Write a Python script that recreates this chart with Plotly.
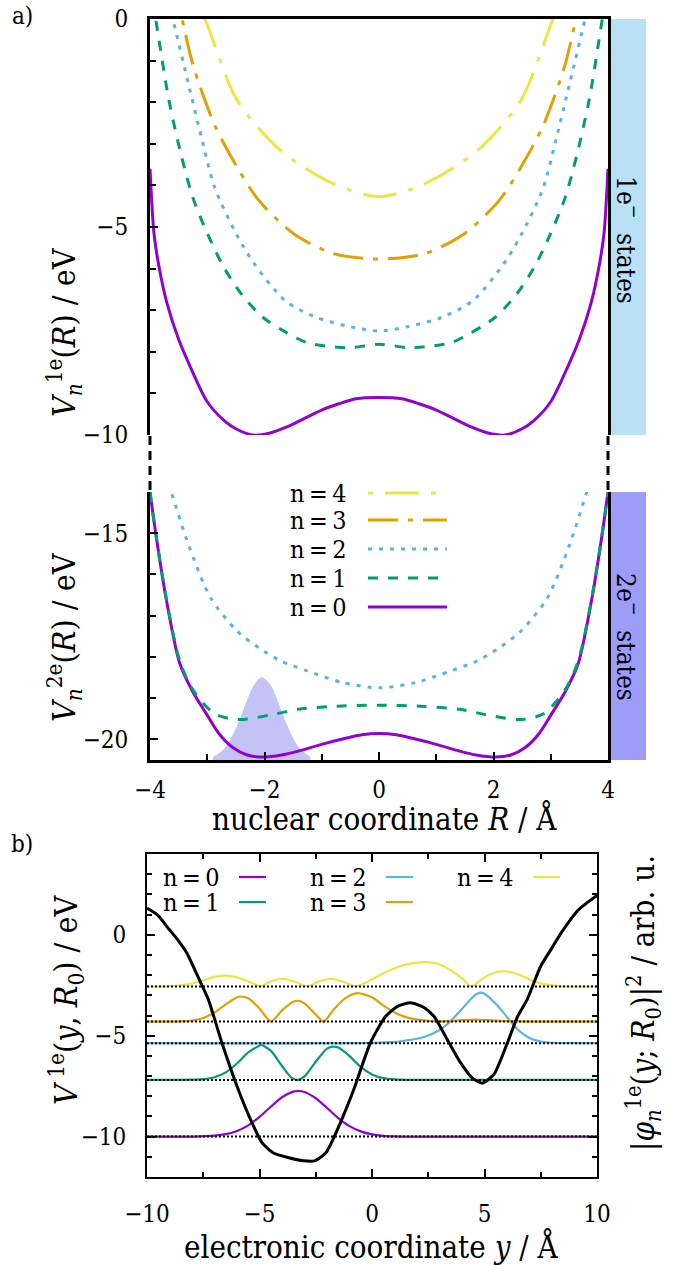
import plotly.graph_objects as go

W, H = 686, 1268
FONT = "DejaVu Serif Condensed, DejaVu Serif, serif"

# ---------------- panel a: one-electron potential curves V_n^1e(R) ----------------
R_1e_n0 = [-4.0, -3.93, -3.85, -3.7, -3.5, -3.3, -3.0, -2.7, -2.5, -2.2, -1.9, -1.6, -1.3, -1.0, -0.7, -0.4, 0.0,
           0.4, 0.7, 1.0, 1.3, 1.6, 1.9, 2.2, 2.5, 2.7, 3.0, 3.3, 3.5, 3.7, 3.85, 3.93, 4.0]
V_1e_n0 = [-3.6, -5.16, -5.9, -6.85, -7.7, -8.35, -9.2, -9.66, -9.85, -10.0, -9.95, -9.8, -9.6, -9.4, -9.25, -9.13, -9.1,
           -9.13, -9.25, -9.4, -9.6, -9.8, -9.95, -10.0, -9.85, -9.66, -9.2, -8.35, -7.7, -6.85, -5.9, -5.16, -3.6]

R_1e_n1 = [-4.0, -3.9, -3.67, -3.45, -3.25, -3.0, -2.71, -2.4, -2.03, -1.6, -1.26, -0.8, -0.5, 0.0,
           0.5, 0.8, 1.26, 1.6, 2.03, 2.4, 2.71, 3.0, 3.25, 3.45, 3.67, 3.9, 4.0]
V_1e_n1 = [0.9, 0.0, -1.95, -3.3, -4.3, -5.15, -5.97, -6.62, -7.17, -7.55, -7.78, -7.88, -7.9, -7.82,
           -7.9, -7.88, -7.78, -7.55, -7.17, -6.62, -5.97, -5.15, -4.3, -3.3, -1.95, 0.0, 0.9]

R_1e_n2 = [-3.75, -3.6, -3.33, -3.1, -2.87, -2.48, -2.17, -1.64, -1.1, -0.49, 0.0,
           0.49, 1.1, 1.64, 2.17, 2.48, 2.87, 3.1, 3.33, 3.6, 3.75]
V_1e_n2 = [0.9, 0.0, -1.55, -2.85, -4.05, -5.2, -5.9, -6.77, -7.17, -7.4, -7.5,
           -7.4, -7.17, -6.77, -5.9, -5.2, -4.05, -2.85, -1.55, 0.0, 0.9]

R_1e_n3 = [-3.6, -3.44, -3.25, -2.87, -2.48, -2.1, -1.49, -0.8, 0.0, 0.8, 1.49, 2.1, 2.48, 2.87, 3.25, 3.44, 3.6]
V_1e_n3 = [0.9, 0.0, -1.1, -2.55, -3.56, -4.36, -5.16, -5.64, -5.77, -5.64, -5.16, -4.36, -3.56, -2.55, -1.1, 0.0, 0.9]

R_1e_n4 = [-3.2, -3.04, -2.48, -1.72, -0.8, 0.0, 0.8, 1.72, 2.48, 3.04, 3.2]
V_1e_n4 = [0.45, 0.0, -1.95, -3.16, -3.96, -4.27, -3.96, -3.16, -1.95, 0.0, 0.45]

# ---------------- panel a: two-electron potential curves V_n^2e(R) ----------------
R_2e_n0 = [-4.0, -3.9, -3.72, -3.48, -3.25, -3.02, -2.8, -2.56, -2.3, -2.04, -1.7, -1.4, -1.0, -0.6, -0.3, 0.0,
           0.3, 0.6, 1.0, 1.4, 1.7, 2.04, 2.3, 2.56, 2.8, 3.02, 3.25, 3.48, 3.72, 3.9, 4.0]
V_2e_n0 = [-14.0, -15.0, -16.57, -18.16, -18.85, -19.37, -19.85, -20.19, -20.38, -20.43, -20.38, -20.28, -20.12, -19.98, -19.89, -19.86,
           -19.89, -19.98, -20.12, -20.28, -20.38, -20.43, -20.38, -20.19, -19.85, -19.37, -18.85, -18.16, -16.57, -15.0, -14.0]

R_2e_n1 = [-4.0, -3.9, -3.72, -3.48, -3.25, -2.87, -2.45, -1.87, -1.41, -0.8, 0.0, 0.8, 1.41, 1.87, 2.45, 2.87, 3.25, 3.48, 3.72, 3.9, 4.0]
V_2e_n1 = [-14.0, -15.0, -16.55, -18.1, -18.8, -19.38, -19.52, -19.4, -19.27, -19.2, -19.17, -19.2, -19.27, -19.4, -19.52, -19.38, -18.8, -18.1, -16.55, -15.0, -14.0]

R_2e_n2 = [-3.8, -3.63, -3.32, -2.94, -2.48, -2.1, -1.71, -1.25, -0.64, 0.0, 0.64, 1.25, 1.71, 2.1, 2.48, 2.94, 3.32, 3.63, 3.8]
V_2e_n2 = [-13.3, -14.0, -15.31, -16.57, -17.37, -17.78, -18.1, -18.34, -18.62, -18.75, -18.62, -18.34, -18.1, -17.78, -17.37, -16.57, -15.31, -14.0, -13.3]

# nuclear wave packet (shaded), heights above the lower axis limit
R_packet = [-2.9, -2.7, -2.5, -2.3, -2.2, -2.1, -2.04, -1.9, -1.8, -1.6, -1.4, -1.2]
h_packet = [0.07, 0.28, 0.77, 1.47, 1.78, 1.97, 2.0, 1.83, 1.54, 0.83, 0.31, 0.08]

# ---------------- panel b: electronic potential and densities ----------------
y_pot = [-10, -9.5, -9.12, -8.6, -8.23, -7.64, -7.27, -6.67, -6.0, -5.34, -4.89, -4.4, -3.7, -3.05, -2.55, -2.05, -1.4,
         -0.81, -0.07, 0.6, 1.12, 1.71, 2.31, 2.76, 3.35, 3.94, 4.46, 4.91, 5.43, 6.02, 6.47, 6.9, 7.5, 8.0, 8.4, 9.18, 10]
V_pot = [1.32, 0.95, 0.41, -0.3, -0.9, -2.31, -3.22, -5.35, -7.5, -9.3, -10.3, -10.8, -11.05, -11.2, -11.2, -10.8, -9.3,
         -7.67, -5.35, -4.05, -3.56, -3.37, -3.6, -4.05, -5.2, -6.35, -7.1, -7.35, -6.9, -5.35, -4.05, -3.2, -1.55, -0.65, 0.08, 1.24, 1.95]

E_levels = [-10.0, -7.19, -5.37, -4.3, -2.56]

y_d0 = [-10, -8, -7, -6.5, -6, -5.5, -5, -4.5, -4, -3.5, -3.28, -3, -2.5, -2, -1.5, -1, -0.5, 0, 0.5, 1, 2, 10]
d0 = [0, 0.004, 0.045, 0.12, 0.28, 0.56, 0.98, 1.48, 1.95, 2.23, 2.26, 2.21, 1.90, 1.42, 0.92, 0.52, 0.26, 0.11, 0.04, 0.013, 0, 0]

y_d1 = [-10, -8, -7.5, -7, -6.5, -6, -5.5, -5, -4.94, -4.5, -4, -3.6, -3.32, -3.0, -2.5, -2, -1.72, -1.5, -1, -0.5, 0, 0.5, 1, 1.5, 3, 10]
d1 = [0, 0.009, 0.037, 0.13, 0.37, 0.81, 1.36, 1.70, 1.74, 1.45, 0.69, 0.13, 0, 0.17, 0.90, 1.55, 1.65, 1.60, 1.18, 0.64, 0.27, 0.09, 0.025, 0.005, 0, 0]

y_d2 = [-10, 0, 1, 1.5, 2, 2.5, 3, 3.5, 4, 4.5, 4.8, 5, 5.5, 6, 6.5, 7, 7.5, 8, 10]
d2 = [0, 0.01, 0.06, 0.13, 0.22, 0.38, 0.65, 1.1, 1.7, 2.3, 2.5, 2.45, 1.95, 1.3, 0.65, 0.25, 0.08, 0.02, 0]

y_d3 = [-10, -8.5, -8, -7.5, -7, -6.5, -6, -5.85, -5.5, -5, -4.49, -4, -3.5, -3.28, -3, -2.5, -2.15, -1.7, -1.2, -0.65,
        0, 0.5, 1, 1.5, 2, 2.5, 3, 3.5, 4, 4.8, 5.5, 6, 7, 10]
d3 = [0, 0.01, 0.05, 0.18, 0.45, 0.85, 1.2, 1.24, 1.15, 0.65, 0, 0.55, 0.98, 1.03, 0.9, 0.35, 0, 0.6, 1.15, 1.41,
      1.2, 0.8, 0.45, 0.22, 0.1, 0.04, 0.01, 0.03, 0.07, 0.09, 0.05, 0.02, 0, 0]

y_d4 = [-10, -9, -8.5, -8, -7.5, -7, -6.5, -6, -5.5, -4.94, -4.5, -3.96, -3.4, -2.89, -2.35, -1.82, -1.25, -0.71,
        0, 0.5, 1, 1.5, 2, 2.46, 3, 3.5, 4, 4.41, 5, 5.5, 5.97, 6.5, 7, 7.5, 8, 8.5, 10]
d4 = [0, 0.02, 0.06, 0.14, 0.3, 0.47, 0.54, 0.45, 0.25, 0, 0.25, 0.38, 0.22, 0, 0.25, 0.38, 0.22, 0,
      0.35, 0.65, 0.9, 1.08, 1.18, 1.2, 1.1, 0.8, 0.4, 0, 0.45, 0.7, 0.74, 0.6, 0.35, 0.15, 0.05, 0.01, 0]

state_labels = ["n\u2009=\u20090", "n\u2009=\u20091", "n\u2009=\u20092", "n\u2009=\u20093", "n\u2009=\u20094"]
colors = ["#9400d3", "#009e73", "#56b4e9", "#e69f00", "#f0e442"]
dashes = ["solid", "10px,10px", "4px,7px", "30px,10px,5px,10px", "5px,12px,34px,12px"]


def px(x):
    return x / W


def py(y):
    return 1 - y / H


fig = go.Figure()

# panel a, top (1e states)
for R, V, c, d in [(R_1e_n4, V_1e_n4, colors[4], dashes[4]), (R_1e_n3, V_1e_n3, colors[3], dashes[3]),
                   (R_1e_n2, V_1e_n2, colors[2], dashes[2]), (R_1e_n1, V_1e_n1, colors[1], dashes[1]),
                   (R_1e_n0, V_1e_n0, colors[0], dashes[0])]:
    fig.add_trace(go.Scatter(x=R, y=V, mode="lines", line=dict(color=c, width=3, dash=d, shape="spline", smoothing=0.8),
                             xaxis="x", yaxis="y", showlegend=False, hoverinfo="skip"))

# panel a, bottom (2e states)
pk_base = [-20.5 for _ in R_packet]
fig.add_trace(go.Scatter(x=R_packet, y=pk_base, mode="lines", line=dict(width=0), xaxis="x2", yaxis="y2",
                         showlegend=False, hoverinfo="skip"))
fig.add_trace(go.Scatter(x=R_packet, y=[-20.5 + h for h in h_packet], mode="lines", fill="tonexty",
                         fillcolor="#c3c3f7", line=dict(width=0, shape="spline"), xaxis="x2", yaxis="y2",
                         showlegend=False, hoverinfo="skip"))
for R, V, c, d in [(R_2e_n2, V_2e_n2, colors[2], dashes[2]), (R_2e_n0, V_2e_n0, colors[0], dashes[0]),
                   (R_2e_n1, V_2e_n1, colors[1], dashes[1])]:
    fig.add_trace(go.Scatter(x=R, y=V, mode="lines", line=dict(color=c, width=3, dash=d, shape="spline", smoothing=0.8),
                             xaxis="x2", yaxis="y2", showlegend=False, hoverinfo="skip"))

# panel b
dens = [(y_d0, d0), (y_d1, d1), (y_d2, d2), (y_d3, d3), (y_d4, d4)]
for i, (yy, dd) in enumerate(dens):
    fig.add_trace(go.Scatter(x=yy, y=[E_levels[i] + v for v in dd], mode="lines",
                             line=dict(color=colors[i], width=2.2, shape="spline", smoothing=0.7),
                             xaxis="x3", yaxis="y3", showlegend=False, hoverinfo="skip"))
for E in E_levels:
    fig.add_trace(go.Scatter(x=[-10, 10], y=[E, E], mode="lines", line=dict(color="black", width=2, dash="2px,2px"),
                             xaxis="x3", yaxis="y3", showlegend=False, hoverinfo="skip"))
fig.add_trace(go.Scatter(x=y_pot, y=V_pot, mode="lines", line=dict(color="black", width=3, shape="spline", smoothing=0.6),
                         xaxis="x3", yaxis="y3", showlegend=False, hoverinfo="skip"))

tickfont = dict(family=FONT, size=24, color="black")
common_y = dict(ticks="inside", ticklen=8, tickwidth=1.5, tickcolor="black", showgrid=False, zeroline=False,
                tickfont=tickfont, ticklabelstandoff=14, automargin=False)

ax_a = [px(150), px(608)]
ax_b = [px(147), px(597)]

fig.update_layout(
    template="none",
    width=W, height=H, margin=dict(l=0, r=0, t=0, b=0, pad=0, autoexpand=False),
    paper_bgcolor="white", plot_bgcolor="white",
    font=dict(family=FONT, color="black"),
    xaxis=dict(domain=ax_a, range=[-4, 4], anchor="y", side="top", showline=True, linewidth=3, linecolor="black",
               showticklabels=False, ticks="", showgrid=False, zeroline=False, automargin=False),
    yaxis=dict(domain=[py(435), py(19)], range=[-10, 0], anchor="x", showline=True, mirror=True, linewidth=3,
               linecolor="black", tick0=0, dtick=5,
               minor=dict(dtick=1, ticks="inside", ticklen=6, tickcolor="black", tickwidth=1.5, showgrid=False),
               **common_y),
    xaxis2=dict(domain=ax_a, range=[-4, 4], anchor="y2", showline=True, linewidth=3, linecolor="black",
                ticks="inside", ticklen=8, tickwidth=1.5, tickcolor="black", tick0=0, dtick=2,
                minor=dict(dtick=1, ticks="inside", ticklen=6, tickcolor="black", tickwidth=1.5, showgrid=False),
                tickfont=tickfont, ticklabelstandoff=6, showgrid=False, zeroline=False, automargin=False),
    yaxis2=dict(domain=[py(760), py(492)], range=[-20.5, -14], anchor="x2", showline=True, mirror=True, linewidth=3,
                linecolor="black", tick0=0, dtick=5,
                minor=dict(dtick=1, ticks="inside", ticklen=6, tickcolor="black", tickwidth=1.5, showgrid=False),
                **common_y),
    xaxis3=dict(domain=ax_b, range=[-10, 10], anchor="y3", showline=True, mirror="allticks", linewidth=2,
                linecolor="black", ticks="inside", ticklen=8, tickwidth=1.5, tickcolor="black", tick0=0, dtick=5,
                minor=dict(dtick=2.5, ticks="inside", ticklen=5, tickcolor="black", tickwidth=1.5, showgrid=False),
                tickfont=tickfont, ticklabelstandoff=14, showgrid=False, zeroline=False, automargin=False),
    yaxis3=dict(domain=[py(1177), py(854)], range=[-12, 4], anchor="x3", showline=True, mirror="allticks", linewidth=2,
                linecolor="black", tick0=0, dtick=5,
                minor=dict(dtick=1, ticks="inside", ticklen=5, tickcolor="black", tickwidth=1.5, showgrid=False),
                **common_y),
)

shapes = []
# state boxes
shapes.append(dict(type="rect", xref="paper", yref="paper", x0=px(610), x1=px(646), y0=py(435), y1=py(19),
                   fillcolor="#b9e0f4", line=dict(width=0), layer="below"))
shapes.append(dict(type="rect", xref="paper", yref="paper", x0=px(610), x1=px(646), y0=py(760), y1=py(492),
                   fillcolor="#9d9df9", line=dict(width=0), layer="below"))
# broken-axis dashes
for xx in (150, 608):
    shapes.append(dict(type="line", xref="paper", yref="paper", x0=px(xx), x1=px(xx), y0=py(436), y1=py(491),
                       line=dict(color="black", width=3, dash="9px,6px")))
# legend samples panel a (n=4 .. n=0)
rows_a = [493, 520, 549, 578, 607]
for k, n in enumerate([4, 3, 2, 1, 0]):
    shapes.append(dict(type="line", xref="paper", yref="paper", x0=px(368), x1=px(447), y0=py(rows_a[k]),
                       y1=py(rows_a[k]), line=dict(color=colors[n], width=3, dash=dashes[n])))
# legend samples panel b
leg_b = {0: (239, 877), 1: (239, 902), 2: (386, 877), 3: (386, 902), 4: (533, 877)}
for n, (lx, ly) in leg_b.items():
    shapes.append(dict(type="line", xref="paper", yref="paper", x0=px(lx), x1=px(lx + 27), y0=py(ly), y1=py(ly),
                       line=dict(color=colors[n], width=2.2)))
fig.update_layout(shapes=shapes)

ann = []


def text(x, y, s, size, angle=0, xanchor="center"):
    ann.append(dict(x=px(x), y=py(y), xref="paper", yref="paper", text=s, showarrow=False, textangle=angle,
                    xanchor=xanchor, yanchor="middle", font=dict(family=FONT, size=size, color="black")))


text(22, 16, "a)", 24)
text(22, 844, "b)", 24)
text(64, 332, "<i>V</i><sub><i>n</i></sub><sup>1e</sup>(<i>R</i>) / eV", 32, -90)
text(64, 637, "<i>V</i><sub><i>n</i></sub><sup>2e</sup>(<i>R</i>) / eV", 32, -90)
text(385, 818, "nuclear coordinate <i>R</i> / Å", 31)
text(66, 1000, "<i>V</i><sup> 1e</sup>(<i>y</i>, <i>R</i><sub>0</sub>) / eV", 32, -90)
text(643, 1003, "|<i>φ</i><sub><i>n</i></sub><sup>1e</sup>(<i>y</i>; <i>R</i><sub>0</sub>)|<sup>2</sup> / arb. u.", 31, -90)
text(371, 1246, "electronic coordinate <i>y</i> / Å", 31)
text(628, 240, "1e<sup>−</sup>  states", 26, 90)
text(628, 637, "2e<sup>−</sup>  states", 26, 90)
for k, n in enumerate([4, 3, 2, 1, 0]):
    text(349, rows_a[k], state_labels[n], 25, xanchor="right")
for n, (lx, ly) in leg_b.items():
    text(lx - 17, ly, state_labels[n], 25, xanchor="right")
fig.update_layout(annotations=ann)

fig.write_html("out.html")
